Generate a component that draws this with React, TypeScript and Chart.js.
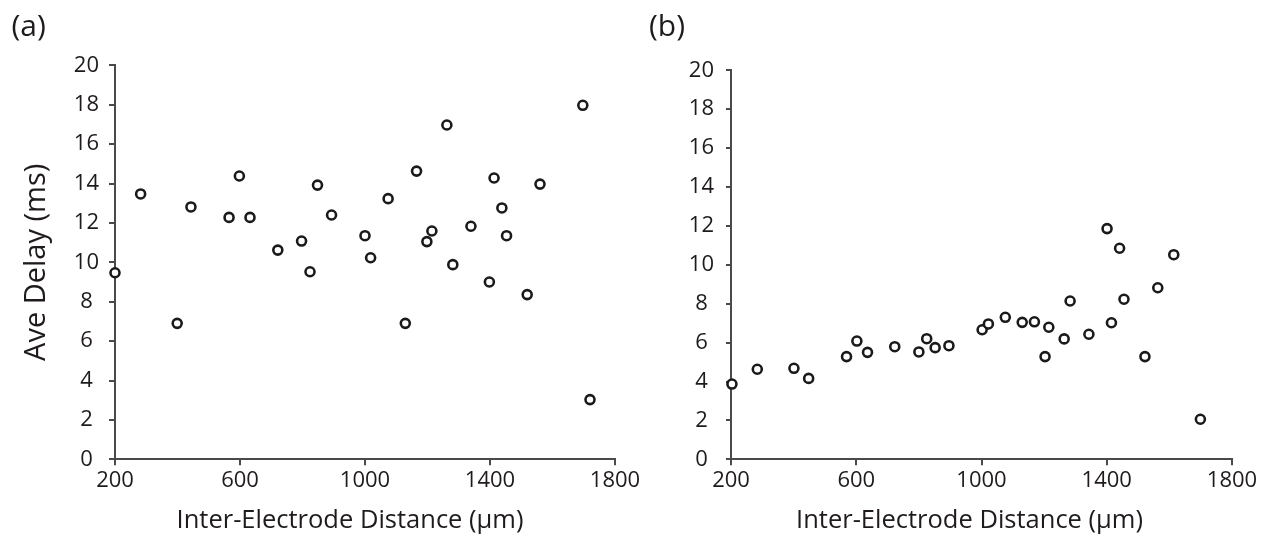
import React, { useEffect, useRef } from 'react';
import { Chart, registerables } from 'chart.js';

Chart.register(...registerables);

// ---- data ----
const xTickValues = [200, 600, 1000, 1400, 1800];
const yTickValues = [0, 2, 4, 6, 8, 10, 12, 14, 16, 18, 20];

const xTitle = 'Inter-Electrode Distance (µm)';
const yTitle = 'Ave Delay (ms)';
const panelLabels = ['(a)', '(b)'];

const distanceA = [200, 282, 399, 443, 565, 598, 632, 721, 797, 824, 848, 893, 1000, 1018, 1074, 1129, 1165, 1198, 1214, 1262, 1281, 1339, 1398, 1413, 1438, 1453, 1519, 1560, 1697, 1720];
const delayA = [9.47, 13.47, 6.9, 12.81, 12.28, 14.38, 12.28, 10.62, 11.08, 9.52, 13.92, 12.4, 11.35, 10.23, 13.23, 6.9, 14.63, 11.05, 11.59, 16.97, 9.88, 11.83, 9.0, 14.28, 12.76, 11.35, 8.36, 13.97, 17.97, 3.03];

const distanceB = [203, 284, 401, 448, 569, 602, 636, 723, 800, 825, 852, 896, 1002, 1022, 1076, 1130, 1169, 1203, 1215, 1264, 1283, 1343, 1401, 1415, 1441, 1455, 1522, 1563, 1614, 1699];
const delayB = [3.87, 4.63, 4.68, 4.16, 5.28, 6.08, 5.5, 5.79, 5.52, 6.2, 5.74, 5.84, 6.66, 6.96, 7.3, 7.04, 7.07, 5.28, 6.79, 6.19, 8.14, 6.43, 11.86, 7.02, 10.85, 8.23, 5.28, 8.82, 10.52, 2.06];

const FONT = "'Open Sans', 'Noto Sans', sans-serif";
const AXIS = '#4a4a4a';
const INK = '#1f1b1c';

type PanelOpts = {
  padTop: number;
  padRight: number;
  yWidth: number;
  yLabelPad: number;
  yTickLen: number;
  showYTitle: boolean;
  titleDx: number;
};

// draws the x-axis caption slightly left of the axis centre, as in the reference
const captionPlugin = {
  id: 'xCaption',
  afterDraw(chart: any, _args: any, opts: any) {
    const { ctx, chartArea } = chart;
    ctx.save();
    ctx.font = `${opts.size}px ${FONT}`;
    ctx.fillStyle = INK;
    ctx.textAlign = 'center';
    ctx.textBaseline = 'middle';
    ctx.fillText(opts.text, (chartArea.left + chartArea.right) / 2 + opts.dx, opts.y);
    ctx.restore();
  },
};

function makeConfig(xs: number[], ys: number[], p: PanelOpts): any {
  return {
    type: 'scatter',
    data: {
      datasets: [
        {
          data: xs.map((x, i) => ({ x, y: ys[i] })),
          pointRadius: 4.5,
          pointHoverRadius: 4.5,
          pointBorderWidth: 2.6,
          pointBorderColor: '#1a1a1a',
          pointBackgroundColor: '#ffffff',
          clip: false,
        },
      ],
    },
    plugins: [captionPlugin],
    options: {
      responsive: false,
      animation: false,
      events: [],
      layout: { autoPadding: false, padding: { top: p.padTop, right: p.padRight, bottom: 0, left: 0 } },
      plugins: {
        legend: { display: false },
        tooltip: { enabled: false },
        title: { display: false },
        xCaption: { text: xTitle, size: 25.5, dx: p.titleDx, y: 521 },
      },
      scales: {
        x: {
          type: 'linear',
          min: 200,
          max: 1800,
          afterBuildTicks: (s: any) => {
            s.ticks = xTickValues.map((v) => ({ value: v }));
          },
          grid: { display: true, drawOnChartArea: false, drawTicks: true, tickLength: 6, color: AXIS, lineWidth: 2 },
          border: { display: true, color: AXIS, width: 2 },
          ticks: {
            font: { family: FONT, size: 22 },
            color: INK,
            padding: 2,
            maxRotation: 0,
            autoSkip: false,
            callback: (v: any) => String(v),
          },
          title: { display: false },
          afterFit: (s: any) => {
            s.height = 78.7;
            s.paddingLeft = 0;
            s.paddingRight = 0;
          },
        },
        y: {
          type: 'linear',
          min: 0,
          max: 20,
          afterBuildTicks: (s: any) => {
            s.ticks = yTickValues.map((v) => ({ value: v }));
          },
          grid: { display: true, drawOnChartArea: false, drawTicks: true, tickLength: p.yTickLen, color: AXIS, lineWidth: 2 },
          border: { display: true, color: AXIS, width: 2 },
          ticks: {
            font: { family: FONT, size: 22 },
            color: INK,
            padding: p.yLabelPad,
            crossAlign: 'center',
            autoSkip: false,
            callback: (v: any) => String(v),
          },
          title: { display: p.showYTitle, text: yTitle, font: { family: FONT, size: 29 }, color: INK, padding: { top: 19.5, bottom: 0 } },
          afterFit: (s: any) => {
            s.width = p.yWidth;
            s.paddingTop = 0;
            s.paddingBottom = 0;
          },
        },
      },
    },
  };
}

export default function App() {
  const refA = useRef<HTMLCanvasElement | null>(null);
  const refB = useRef<HTMLCanvasElement | null>(null);

  useEffect(() => {
    const a = new Chart(
      refA.current as HTMLCanvasElement,
      makeConfig(distanceA, delayA, { padTop: 65.3, padRight: 35, yWidth: 115, yLabelPad: 10, yTickLen: 6, showYTitle: true, titleDx: -15 })
    );
    const b = new Chart(
      refB.current as HTMLCanvasElement,
      makeConfig(distanceB, delayB, { padTop: 70.3, padRight: 38, yWidth: 81, yLabelPad: 12, yTickLen: 5, showYTitle: false, titleDx: -12 })
    );
    return () => {
      a.destroy();
      b.destroy();
    };
  }, []);

  const labelStyle: React.CSSProperties = {
    position: 'absolute',
    fontFamily: FONT,
    fontSize: 30,
    lineHeight: '30px',
    color: INK,
    margin: 0,
  };

  return (
    <div style={{ position: 'absolute', left: 0, top: 0, width: 1270, height: 538, background: '#fff', overflow: 'hidden' }}>
      <canvas ref={refA} width={650} height={538} style={{ position: 'absolute', left: 0, top: 0, width: 650, height: 538 }} />
      <canvas ref={refB} width={620} height={538} style={{ position: 'absolute', left: 650, top: 0, width: 620, height: 538 }} />
      <div style={{ ...labelStyle, left: 11.5, top: 9.5 }}>{panelLabels[0]}</div>
      <div style={{ ...labelStyle, left: 649, top: 10 }}>{panelLabels[1]}</div>
    </div>
  );
}
